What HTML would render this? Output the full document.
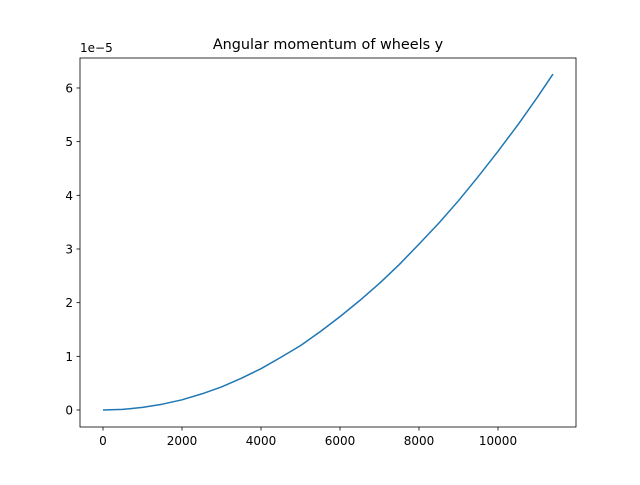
<!DOCTYPE html>
<html><head><meta charset="utf-8"><style>
body{margin:0;background:#fff}
text{font-family:"DejaVu Sans","Liberation Sans",sans-serif;fill:#000}
</style></head><body>
<svg id="chart" width="640" height="480" xmlns="http://www.w3.org/2000/svg">
<rect width="640" height="480" fill="#fff"/>
<text x="328" y="49" font-size="14.4" text-anchor="middle">Angular momentum of wheels y</text>
<text x="80" y="52" font-size="12">1e−5</text>
<g id="xt"></g>
<g id="yt"></g>
<path id="line" fill="none" stroke="#1f77b4" stroke-width="1.5" stroke-linejoin="round"/>
<rect x="80" y="58" width="496" height="369" fill="none" stroke="#000" stroke-width="0.8"/>
</svg>
<script>
const xs = [0,500,1000,1500,2000,2500,3000,3500,4000,4500,5000,5500,6000,6500,7000,7500,8000,8500,9000,9500,10000,10500,11000,11392];
const ys = [0,0.012,0.048,0.108,0.19,0.30,0.43,0.59,0.77,0.98,1.20,1.46,1.74,2.04,2.36,2.71,3.09,3.48,3.90,4.35,4.82,5.31,5.83,6.26];
const xTicks = [0,2000,4000,6000,8000,10000];
const yTicks = [0,1,2,3,4,5,6];
const X = v => 103 + v*0.0395;
const Y = v => 410 - v*53.67;
const ns="http://www.w3.org/2000/svg";
const xt=document.getElementById('xt'), yt=document.getElementById('yt');
xTicks.forEach(t=>{
  const l=document.createElementNS(ns,'line');
  
  
  l.setAttribute('x1',X(t));l.setAttribute('x2',X(t));l.setAttribute('y1',427);l.setAttribute('y2',430.5);l.setAttribute('stroke','#000');l.setAttribute('stroke-width','0.8');
  xt.appendChild(l);
  const tx=document.createElementNS(ns,'text');
  
  
  tx.setAttribute('x',X(t));tx.setAttribute('y',445);tx.setAttribute('font-size','12');tx.setAttribute('text-anchor','middle');
  tx.textContent=t;xt.appendChild(tx);
});
yTicks.forEach(t=>{
  const l=document.createElementNS(ns,'line');
  
  
  l.setAttribute('x1',76.5);l.setAttribute('x2',80);l.setAttribute('y1',Y(t));l.setAttribute('y2',Y(t));l.setAttribute('stroke','#000');l.setAttribute('stroke-width','0.8');
  yt.appendChild(l);
  const tx=document.createElementNS(ns,'text');
  
  
  tx.setAttribute('x',73);tx.setAttribute('y',Y(t)+4.5);tx.setAttribute('font-size','12');tx.setAttribute('text-anchor','end');
  tx.textContent=t;yt.appendChild(tx);
});
document.getElementById('line').setAttribute('d', xs.map((v,i)=>(i?'L':'M')+X(v).toFixed(2)+','+Y(ys[i]).toFixed(2)).join(' '));
</script>
</body></html>
